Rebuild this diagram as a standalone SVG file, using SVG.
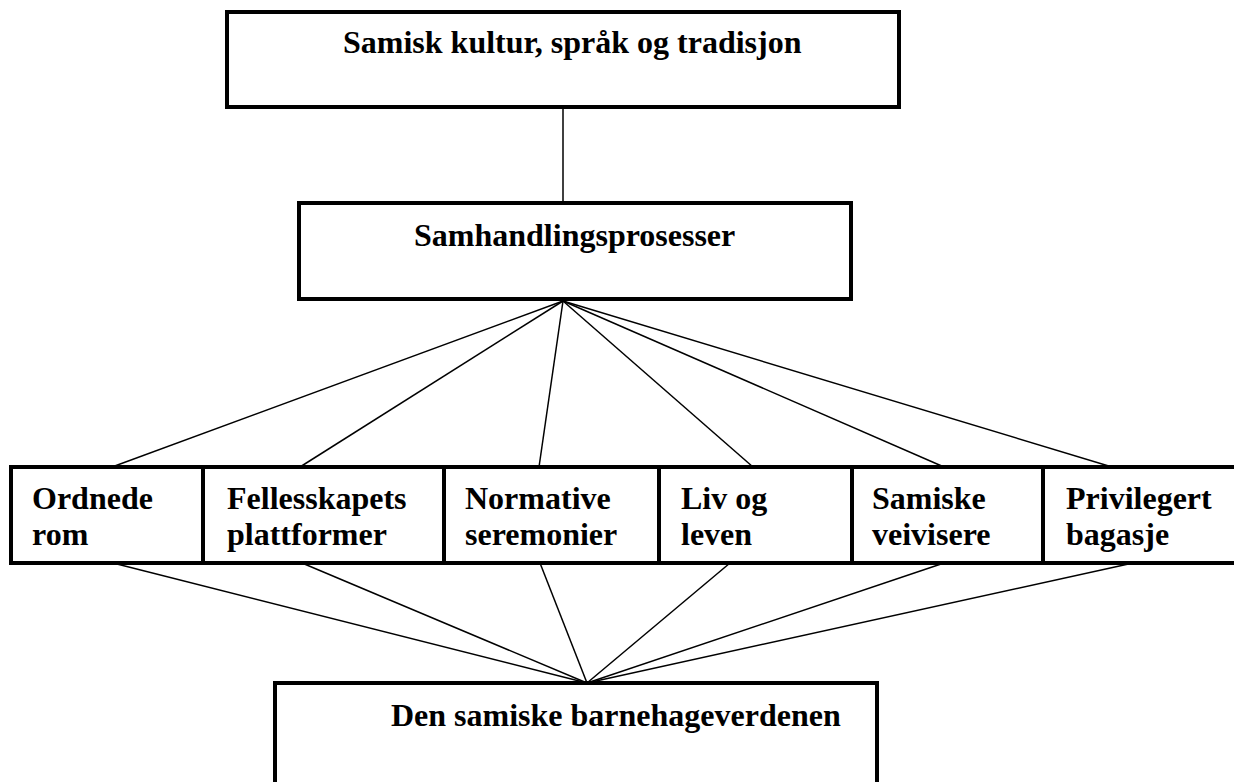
<svg xmlns="http://www.w3.org/2000/svg" width="1234" height="782" viewBox="0 0 1234 782">
<style>
.box{fill:#fff;stroke:#000;stroke-width:4}
.t{font-family:"Liberation Serif","Times New Roman",serif;font-weight:bold;font-size:32px;fill:#000}
.c{stroke:#000;stroke-width:1.5;fill:none}
</style>
<rect width="1234" height="782" fill="#fff"/>
<g id="connectors">
<line class="c" x1="563" y1="107" x2="563" y2="203"/>
<line class="c" x1="563" y1="301" x2="112" y2="467"/>
<line class="c" x1="563" y1="301" x2="300" y2="467"/>
<line class="c" x1="563" y1="301" x2="539" y2="467"/>
<line class="c" x1="563" y1="301" x2="753" y2="467"/>
<line class="c" x1="563" y1="301" x2="944" y2="467"/>
<line class="c" x1="563" y1="301" x2="1112" y2="467"/>
<line class="c" x1="113" y1="563" x2="587" y2="683"/>
<line class="c" x1="302" y1="563" x2="587" y2="683"/>
<line class="c" x1="540" y1="563" x2="587" y2="683"/>
<line class="c" x1="730" y1="563" x2="587" y2="683"/>
<line class="c" x1="944" y1="563" x2="587" y2="683"/>
<line class="c" x1="1133" y1="563" x2="587" y2="683"/>
</g>
<g id="top">
<rect class="box" x="227" y="12" width="672" height="95"/>
<text class="t" x="343" y="53">Samisk kultur, språk og tradisjon</text>
</g>
<g id="middle">
<rect class="box" x="299" y="203" width="552" height="96"/>
<text class="t" x="414" y="246">Samhandlingsprosesser</text>
</g>
<g id="n1">
<rect class="box" x="11" y="467" width="192" height="96"/>
<text class="t" x="32" y="509">Ordnede</text>
<text class="t" x="32" y="545">rom</text>
</g>
<g id="n2">
<rect class="box" x="203" y="467" width="241" height="96"/>
<text class="t" x="227" y="509">Fellesskapets</text>
<text class="t" x="227" y="545">plattformer</text>
</g>
<g id="n3">
<rect class="box" x="444" y="467" width="215" height="96"/>
<text class="t" x="465" y="509">Normative</text>
<text class="t" x="465" y="545">seremonier</text>
</g>
<g id="n4">
<rect class="box" x="659" y="467" width="193" height="96"/>
<text class="t" x="681" y="509">Liv og</text>
<text class="t" x="681" y="545">leven</text>
</g>
<g id="n5">
<rect class="box" x="852" y="467" width="191" height="96"/>
<text class="t" x="872" y="509">Samiske</text>
<text class="t" x="872" y="545">veivisere</text>
</g>
<g id="n6">
<rect class="box" x="1043" y="467" width="194" height="96"/>
<text class="t" x="1066" y="509">Privilegert</text>
<text class="t" x="1066" y="545">bagasje</text>
</g>
<g id="bottom">
<rect class="box" x="275" y="683" width="602" height="110"/>
<text class="t" x="391" y="726">Den samiske barnehageverdenen</text>
</g>
</svg>
